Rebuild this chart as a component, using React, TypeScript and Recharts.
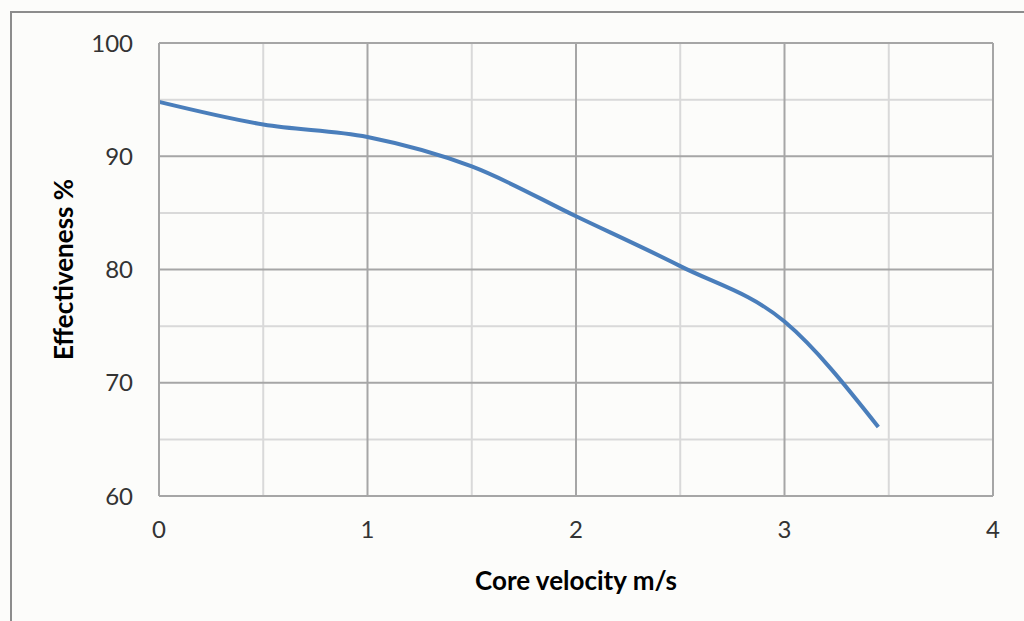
import React from "react";
import {
  LineChart,
  Line,
  XAxis,
  YAxis,
  ReferenceLine,
  Label,
} from "recharts";

// values
const velocity = [0, 0.5, 1, 1.5, 2, 2.5, 3, 3.45];
const effectiveness = [94.8, 92.8, 91.7, 89.1, 84.7, 80.3, 75.4, 66.1];

const xTicks = [0, 1, 2, 3, 4];
const yTicks = [60, 70, 80, 90, 100];
const xMinor = [0.5, 1.5, 2.5, 3.5];
const yMinor = [65, 75, 85, 95];

const data = velocity.map((v, i) => ({ v, e: effectiveness[i] }));

const FONT = "Lato, 'Liberation Sans', sans-serif";
const MAJOR = "#a6a6a6";
const MINOR = "#d9d9d9";

export default function App() {
  return (
    <div
      style={{
        position: "absolute",
        left: 0,
        top: 0,
        width: 1024,
        height: 621,
        background: "#fcfcfa",
        fontFamily: FONT,
      }}
    >
      {/* frame of the pasted chart, only top and left edges visible */}
      <div
        style={{
          position: "absolute",
          left: 10,
          top: 11,
          right: 0,
          bottom: 0,
          borderTop: "2px solid #8c8c8c",
          borderLeft: "2px solid #8c8c8c",
        }}
      />
      <LineChart
        width={1024}
        height={621}
        data={data}
        margin={{ top: 43, right: 31, left: 0, bottom: 0 }}
        style={{ position: "absolute", left: 0, top: 0 }}
      >
        <XAxis
          type="number"
          dataKey="v"
          domain={[0, 4]}
          ticks={xTicks}
          height={125}
          tickLine={false}
          axisLine={{ stroke: MAJOR, strokeWidth: 2 }}
          tickMargin={19}
          tick={{ fill: "#333", fontSize: 24, fontFamily: FONT }}
        >
          <Label
            value="Core velocity m/s"
            position="insideBottom"
            offset={31}
            style={{ fill: "#000", fontSize: 26, fontWeight: 700, fontFamily: FONT }}
          />
        </XAxis>
        <YAxis
          type="number"
          domain={[60, 100]}
          ticks={yTicks}
          width={159}
          tickLine={false}
          axisLine={{ stroke: MAJOR, strokeWidth: 2 }}
          tickMargin={20}
          tick={{ fill: "#333", fontSize: 24, fontFamily: FONT }}
        >
          <Label
            value="Effectiveness %"
            angle={-90}
            position="insideLeft"
            offset={64}
            style={{
              fill: "#000",
              fontSize: 26,
              fontWeight: 700,
              fontFamily: FONT,
              textAnchor: "middle",
            }}
          />
        </YAxis>
        {xMinor.map((x) => (
          <ReferenceLine key={"xm" + x} x={x} stroke={MINOR} strokeWidth={2} />
        ))}
        {yMinor.map((y) => (
          <ReferenceLine key={"ym" + y} y={y} stroke={MINOR} strokeWidth={2} />
        ))}
        {xTicks.slice(1).map((x) => (
          <ReferenceLine key={"x" + x} x={x} stroke={MAJOR} strokeWidth={2} />
        ))}
        {yTicks.slice(1).map((y) => (
          <ReferenceLine key={"y" + y} y={y} stroke={MAJOR} strokeWidth={2} />
        ))}
        <Line
          type="monotone"
          dataKey="e"
          stroke="#4a7ebb"
          strokeWidth={4}
          dot={false}
          isAnimationActive={false}
        />
      </LineChart>
    </div>
  );
}
